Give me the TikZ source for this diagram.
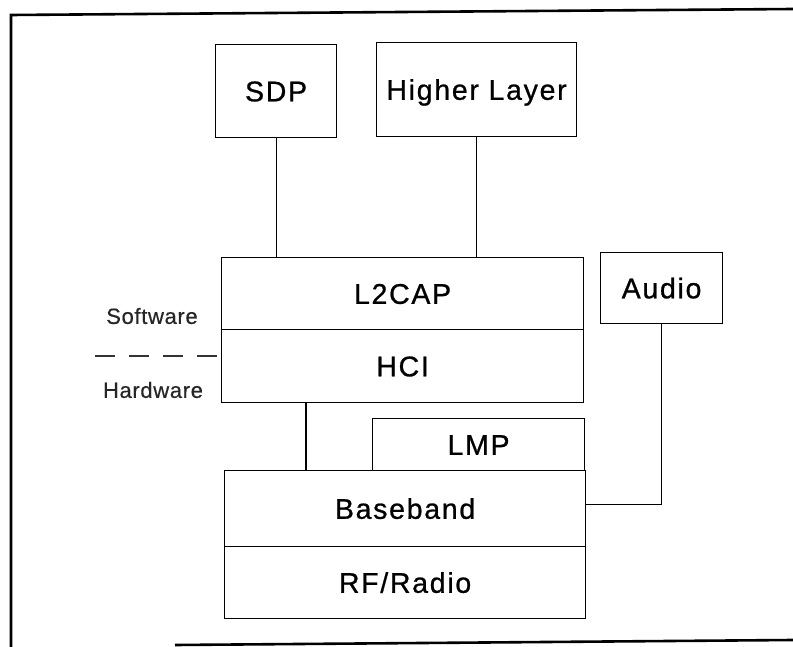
\documentclass[tikz,border=0pt]{standalone}
\usepackage{fontspec}
\setmainfont{Liberation Sans}
\newfontfamily\boxfont[LetterSpace=6,FakeBold=0.8]{Liberation Sans}
\newfontfamily\sidefont[LetterSpace=3,FakeBold=0.5]{Liberation Sans}
\begin{document}
\begin{tikzpicture}[x=1pt,y=-1pt,
  layer/.style={draw, line width=1.2pt, rectangle, anchor=north west, inner sep=0pt,
    text height=20.4pt, text depth=0pt,
    font=\boxfont\fontsize{28.5}{30}\selectfont},
  link/.style={line width=1.2pt},
  frameline/.style={line width=2.6pt},
  side/.style={font=\sidefont\fontsize{22}{24}\selectfont, text=black!85,
    text height=15.75pt, text depth=0pt, inner sep=0pt}]
  \useasboundingbox (0,0) rectangle (793,647);

  % outer frame (top, left, bottom)
  \coordinate (ftl) at (11,15);
  \coordinate (ftr) at (793,9);
  \coordinate (fbl) at (11,647);
  \coordinate (fbs) at (175,645);
  \coordinate (fbr) at (793,640);
  \draw[frameline] (ftr) -- (ftl) -- (fbl);
  \draw[frameline] (fbs) -- (fbr);

  % protocol layers
  \node[layer, minimum width=121, minimum height=93] (sdp) at (215,44) {SDP};
  \node[layer, minimum width=200, minimum height=94] (hl) at (376,42) {Higher Layer};
  \node[layer, minimum width=362, minimum height=72] (l2cap) at (221,257) {L2CAP};
  \node[layer, minimum width=362, minimum height=73] (hci) at (221,329) {HCI};
  \node[layer, minimum width=122, minimum height=71] (audio) at (600,252) {Audio};
  \node[layer, minimum width=212, minimum height=52] (lmp) at (372,418) {LMP};
  \node[layer, minimum width=361, minimum height=76] (bb) at (224,470) {Baseband};
  \node[layer, minimum width=361, minimum height=72] (rf) at (224,546) {RF/Radio};

  % connections between layers
  \draw[link] (sdp.south) -- (sdp.south |- l2cap.north);
  \draw[link] (hl.south) -- (hl.south |- l2cap.north);
  \coordinate (hcitap) at ([xshift=85pt]hci.south west);
  \draw[link] (hcitap) -- (hcitap |- bb.north);
  \coordinate (bbtap) at ([yshift=4pt]bb.east);
  \draw[link] (audio.south) |- (bbtap);

  % software / hardware boundary
  \node[side] (sw) at (152,316) {Software};
  \node[side] (hw) at (153,390) {Hardware};
  \coordinate (dl) at (95,356);
  \coordinate (dr) at (hci.west |- dl);
  \draw[line width=1.3pt, black!80, dash pattern=on 20pt off 14pt] (dl) -- (dr);
\end{tikzpicture}
\end{document}
